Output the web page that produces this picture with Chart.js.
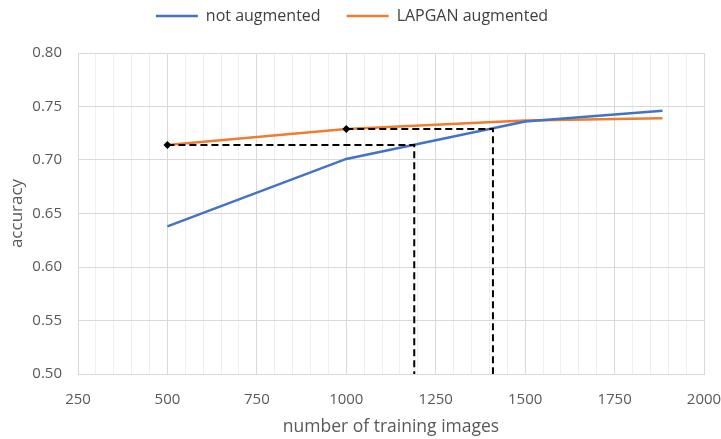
<!DOCTYPE html>
<html>
<head>
<meta charset="utf-8">
<script src="https://cdn.jsdelivr.net/npm/chart.js@4"></script>
<style>
  html, body { margin: 0; padding: 0; background: #ffffff; }
  #wrap { width: 721px; height: 439px; position: relative; }
</style>
</head>
<body>
<div id="wrap"><canvas id="c"></canvas></div>
<script>
// ---- data ----
const trainingImages = [500, 1000, 1500, 1884];
const notAugmented = [0.638, 0.701, 0.736, 0.746];
const lapganAugmented = [0.714, 0.729, 0.737, 0.739];
// dashed guide lines: start x on the LAPGAN curve, accuracy level, x where the blue curve reaches it
const guideStartX = [500, 1000];
const guideLevel = [0.714, 0.729];
const guideMatchX = [1190, 1410];
const xTickLabels = [250, 500, 750, 1000, 1250, 1500, 1750, 2000];
const yTickLabels = [0.50, 0.55, 0.60, 0.65, 0.70, 0.75, 0.80];

const seriesNames = ['not augmented', 'LAPGAN augmented'];
const blue = '#4472c4';
const orange = '#ed7d31';
const font = '"Open Sans", "Noto Sans", sans-serif';

const toPts = (xs, ys) => xs.map((x, i) => ({ x: x, y: ys[i] }));

const guideSets = guideStartX.map((sx, i) => ({
  label: 'guide',
  data: [{ x: sx, y: guideLevel[i] }, { x: guideMatchX[i], y: guideLevel[i] }, { x: guideMatchX[i], y: yTickLabels[0] }],
  borderColor: '#000000',
  borderWidth: 2,
  borderDash: [7, 4],
  pointRadius: [4, 0, 0],
  pointStyle: 'rectRot',
  pointBackgroundColor: '#000000',
  pointBorderColor: '#000000',
  pointBorderWidth: 0,
  fill: false,
  tension: 0
}));

// legend spacing: keep the plot area top where the reference has it
const legendSpacer = {
  id: 'legendSpacer',
  beforeInit(chart) {
    const legend = chart.legend;
    const origFit = legend.fit;
    legend.fit = function () {
      origFit.call(this);
      this.height = 71;
    };
  }
};

new Chart(document.getElementById('c'), {
  type: 'line',
  plugins: [legendSpacer],
  data: {
    datasets: [
      ...guideSets,
      {
        label: seriesNames[0],
        data: toPts(trainingImages, notAugmented),
        borderColor: blue,
        backgroundColor: blue,
        borderWidth: 2.5,
        pointRadius: 0,
        tension: 0
      },
      {
        label: seriesNames[1],
        data: toPts(trainingImages, lapganAugmented),
        borderColor: orange,
        backgroundColor: orange,
        borderWidth: 2.5,
        pointRadius: 0,
        tension: 0
      }
    ]
  },
  options: {
    responsive: true,
    maintainAspectRatio: false,
    animation: false,
    layout: { padding: { left: 0, right: 17, top: -18, bottom: 0 } },
    plugins: {
      tooltip: { enabled: false },
      legend: {
        position: 'top',
        labels: {
          filter: (item) => item.text !== 'guide',
          usePointStyle: true,
          pointStyle: 'line',
          pointStyleWidth: 42,
          boxHeight: 16,
          padding: 26,
          color: '#404040',
          font: { family: font, size: 16 }
        }
      }
    },
    scales: {
      x: {
        type: 'linear',
        min: xTickLabels[0],
        max: xTickLabels[xTickLabels.length - 1],
        afterFit: (s) => { s.height = 65; s.paddingRight = 0; s.paddingLeft = 0; },
        title: { display: true, text: 'number of training images', color: '#595959', font: { family: font, size: 17.5 }, padding: { top: 6, bottom: 1 } },
        ticks: {
          stepSize: 50,
          autoSkip: false,
          maxRotation: 0,
          color: '#595959',
          font: { family: font, size: 15 },
          padding: 17,
          callback: (v) => xTickLabels.includes(v) ? String(v) : ''
        },
        grid: {
          color: (ctx) => (ctx.tick && xTickLabels.includes(ctx.tick.value)) ? '#d9d9d9' : '#efefef',
          lineWidth: 1,
          drawTicks: false
        },
        border: { color: '#d9d9d9' }
      },
      y: {
        min: yTickLabels[0],
        max: yTickLabels[yTickLabels.length - 1],
        afterFit: (s) => { s.width = 78; },
        title: { display: true, text: 'accuracy', color: '#595959', font: { family: font, size: 17 }, padding: { top: 7, bottom: 6 } },
        ticks: {
          stepSize: 0.05,
          color: '#595959',
          font: { family: font, size: 15 },
          padding: 16,
          callback: (v) => Number(v).toFixed(2)
        },
        grid: { color: '#d9d9d9', lineWidth: 1, drawTicks: false },
        border: { color: '#d9d9d9' }
      }
    }
  }
});
</script>
</body>
</html>
